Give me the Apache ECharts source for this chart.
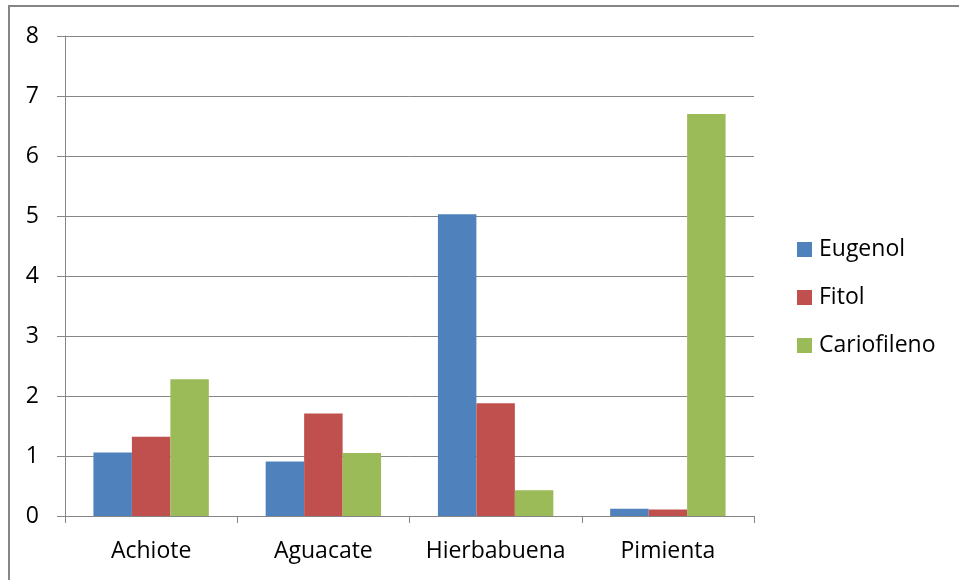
<!DOCTYPE html>
<html>
<head>
<meta charset="utf-8">
<script src="https://cdn.jsdelivr.net/npm/echarts@6/dist/echarts.min.js"></script>
<style>
  html, body { margin: 0; padding: 0; background: #ffffff; }
  #chart { width: 959px; height: 580px; }
</style>
</head>
<body>
<div id="chart"></div>
<script>
// Plantas analizadas y contenido de cada compuesto
const categories = ['Achiote', 'Aguacate', 'Hierbabuena', 'Pimienta'];
const eugenol = [1.06, 0.91, 5.03, 0.12];
const fitol = [1.32, 1.71, 1.88, 0.11];
const cariofileno = [2.28, 1.05, 0.43, 6.70];
const yTicks = [0, 1, 2, 3, 4, 5, 6, 7, 8];

const FONT = '"Open Sans", sans-serif';
const GRAY = '#868686';
const SIZE = 23;

const chart = echarts.init(document.getElementById('chart'), null, { renderer: 'canvas' });

function bar(name, data, color) {
  return {
    name: name,
    type: 'bar',
    data: data,
    barGap: '0%',
    barCategoryGap: '33%',
    itemStyle: { color: color },
    emphasis: { disabled: true }
  };
}

chart.setOption({
  animation: false,
  backgroundColor: '#ffffff',
  textStyle: { fontFamily: FONT },
  graphic: [{
    type: 'rect',
    shape: { x: 9, y: 6, width: 1200, height: 1200 },
    style: { fill: 'none', stroke: GRAY, lineWidth: 2 },
    silent: true,
    z: -1
  }],
  grid: { left: 65, right: 205, top: 36, bottom: 64, containLabel: false },
  legend: {
    orient: 'vertical',
    left: 792,
    top: 233,
    itemWidth: 15,
    itemHeight: 15,
    itemGap: 25,
    icon: 'rect',
    textStyle: { fontFamily: FONT, fontSize: SIZE, color: '#000000', lineHeight: 23, padding: [0, 0, 0, 2] },
    data: ['Eugenol', 'Fitol', 'Cariofileno']
  },
  xAxis: {
    type: 'category',
    data: categories,
    axisLine: { lineStyle: { color: GRAY, width: 1 } },
    axisTick: { show: true, length: 7, lineStyle: { color: GRAY } },
    axisLabel: { color: '#000000', fontSize: SIZE, fontFamily: FONT, margin: 24, interval: 0, hideOverlap: false },
    splitLine: { show: false }
  },
  yAxis: {
    type: 'value',
    min: yTicks[0],
    max: yTicks[yTicks.length - 1],
    interval: 1,
    axisLine: { show: true, lineStyle: { color: GRAY, width: 1 } },
    axisTick: { show: true, length: 8, lineStyle: { color: GRAY } },
    axisLabel: { color: '#000000', fontSize: SIZE, fontFamily: FONT, margin: 26 },
    splitLine: { show: true, lineStyle: { color: GRAY, width: 1 } }
  },
  series: [
    bar('Eugenol', eugenol, '#4f81bd'),
    bar('Fitol', fitol, '#c0504d'),
    bar('Cariofileno', cariofileno, '#9bbb59')
  ]
});
</script>
</body>
</html>
